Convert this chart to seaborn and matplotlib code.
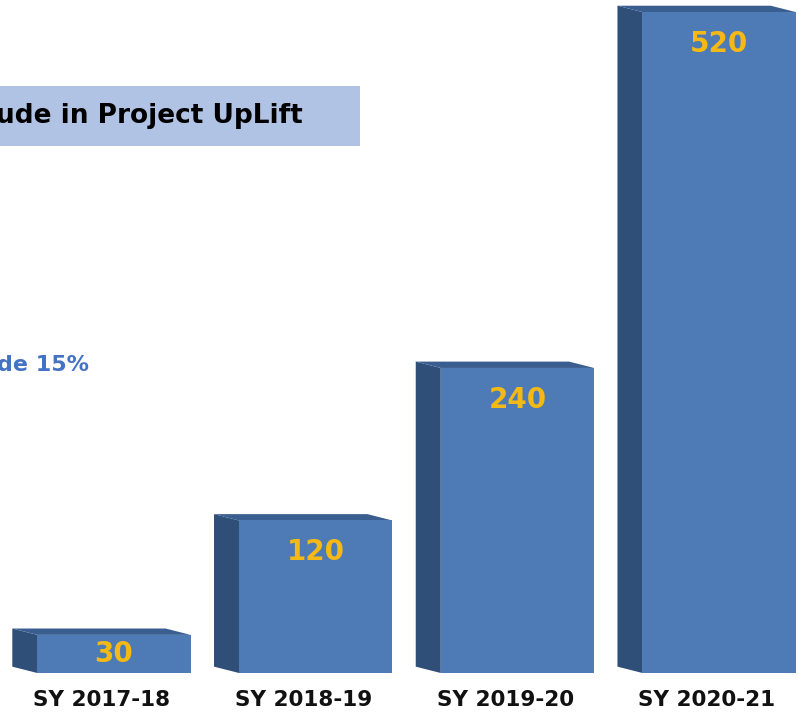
import numpy as np
import pandas as pd
import matplotlib.pyplot as plt
from matplotlib.patches import Polygon, Rectangle
import seaborn as sns

years = ["SY 2017-18", "SY 2018-19", "SY 2019-20", "SY 2020-21"]
students = [30, 120, 240, 520]

title_text = "ude in Project UpLift"
note_text = "de 15%"

FRONT = "#4E7BB6"
SIDE = "#2F4E78"
TOP = "#3A5E8F"
LABEL = "#F5B915"

sns.set_theme(style="white")
plt.rcParams["font.family"] = ["DejaVu Sans"]

df = pd.DataFrame({"year": years, "students": students})

fig = plt.figure(figsize=(7.99, 7.18), dpi=100)
ax = fig.add_axes([0, 45 / 718, 1, 673 / 718])

sns.barplot(
    data=df,
    x="year",
    y="students",
    color=FRONT,
    saturation=1,
    width=0.76,
    edgecolor="none",
    linewidth=0,
    ax=ax,
    zorder=3
)

ax.set_xlim(-0.565, 3.396)
ax.set_ylim(0, 529.5)

# fake 3d: side and top faces
dx = -0.124
dy = 5
for bar in ax.patches[:len(students)]:
    x0 = bar.get_x()
    x1 = x0 + bar.get_width()
    h = bar.get_height()
    side = Polygon(
        [(x0, 0), (x0 + dx, dy), (x0 + dx, h + dy), (x0, h)],
        closed=True, facecolor=SIDE, edgecolor="none", zorder=2
    )
    top = Polygon(
        [(x0, h), (x0 + dx, h + dy), (x1 + dx, h + dy), (x1, h)],
        closed=True, facecolor=TOP, edgecolor="none", zorder=2
    )
    ax.add_patch(side)
    ax.add_patch(top)

for i, v in enumerate(students):
    ax.text(
        i, max(v - 25, v * 0.5), str(v),
        ha="center", va="center",
        fontsize=20, fontweight="bold", color=LABEL, zorder=4
    )

ax.set_xticks(np.arange(len(years)) - 0.06)
ax.set_xticklabels(years, fontsize=15.5, fontweight="bold", color="#111111")
ax.tick_params(axis="x", length=0, pad=12)
ax.set_yticks([])
ax.set_xlabel("")
ax.set_ylabel("")
sns.despine(ax=ax, left=True, bottom=True)
ax.set_facecolor("none")

# title box
fig.patches.append(Rectangle(
    (0, 1 - 146 / 718), 360 / 799, 60 / 718,
    transform=fig.transFigure, facecolor="#B1C3E5", edgecolor="none", zorder=0
))
fig.text(
    -4 / 799, 1 - 116 / 718, title_text,
    ha="left", va="center", fontsize=19, fontweight="bold", color="black"
)
fig.text(
    -3 / 799, 1 - 365 / 718, note_text,
    ha="left", va="center", fontsize=16, fontweight="bold", color="#4472C4"
)

fig.savefig("out.png", dpi=100)
